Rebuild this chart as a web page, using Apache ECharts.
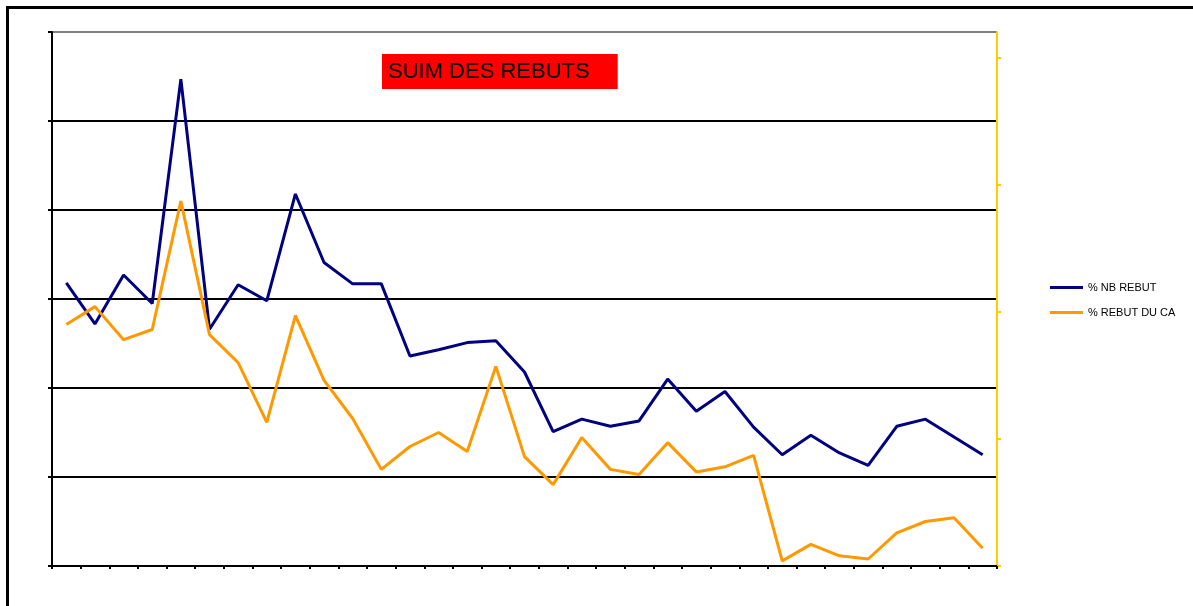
<!DOCTYPE html>
<html>
<head>
<meta charset="utf-8">
<script src="https://cdn.jsdelivr.net/npm/echarts@6/dist/echarts.min.js"></script>
<style>
  html, body { margin: 0; padding: 0; background: #fff; }
  #chart { width: 1193px; height: 606px; }
</style>
</head>
<body>
<div id="chart"></div>
<script>
// periods on the x axis (no labels shown in the original)
var categories = ['1','2','3','4','5','6','7','8','9','10','11','12','13','14','15','16','17',
                  '18','19','20','21','22','23','24','25','26','27','28','29','30','31','32','33'];

// % NB REBUT (left axis)
var nbRebut = [3.18, 2.72, 3.27, 2.95, 5.47, 2.66, 3.16, 2.98, 4.18, 3.41, 3.17,
               3.17, 2.36, 2.43, 2.51, 2.53, 2.18, 1.51, 1.65, 1.57, 1.63, 2.10,
               1.74, 1.96, 1.56, 1.25, 1.47, 1.27, 1.13, 1.57, 1.65, 1.45, 1.25];

// % REBUT DU CA (right axis)
var rebutCA = [1.90, 2.04, 1.78, 1.86, 2.87, 1.82, 1.60, 1.13, 1.97, 1.46, 1.16,
               0.76, 0.94, 1.05, 0.90, 1.57, 0.86, 0.64, 1.01, 0.76, 0.72, 0.97,
               0.74, 0.78, 0.87, 0.04, 0.17, 0.08, 0.055, 0.26, 0.35, 0.38, 0.14];

var chart = echarts.init(document.getElementById('chart'));

var option = {
  animation: false,
  backgroundColor: '#fff',
  title: {
    text: 'SUIM DES REBUTS',
    left: 382,
    top: 54,
    backgroundColor: '#ff0000',
    padding: [7, 28, 6, 6],
    textStyle: {
      fontFamily: 'Liberation Sans, Arial, sans-serif',
      fontSize: 22,
      fontWeight: 'normal',
      color: '#000'
    }
  },
  graphic: [{
    type: 'rect',
    shape: { x: 7.5, y: 7.5, width: 1300, height: 700 },
    style: { fill: 'none', stroke: '#000', lineWidth: 3 },
    silent: true
  }],
  legend: {
    orient: 'vertical',
    left: 1050,
    top: 281,
    padding: 0,
    icon: 'rect',
    itemWidth: 33,
    itemHeight: 3,
    itemGap: 12,
    textStyle: {
      fontFamily: 'Liberation Sans, Arial, sans-serif',
      fontSize: 11,
      color: '#000',
      lineHeight: 13
    },
    data: ['% NB REBUT', '% REBUT DU CA']
  },
  grid: {
    left: 52,
    top: 32,
    right: 196,
    bottom: 40,
    containLabel: false
  },
  xAxis: {
    type: 'category',
    data: categories,
    boundaryGap: true,
    axisLine: { lineStyle: { color: '#000', width: 2 } },
    axisTick: { show: true, length: 3, lineStyle: { color: '#000', width: 2 } },
    axisLabel: { show: false },
    splitLine: { show: false }
  },
  yAxis: [{
    type: 'value',
    min: 0,
    max: 6,
    interval: 1,
    position: 'left',
    axisLine: { show: true, lineStyle: { color: '#000', width: 2 } },
    axisTick: { show: true, length: 4, lineStyle: { color: '#000', width: 2 } },
    axisLabel: { show: false },
    splitLine: {
      show: true,
      lineStyle: {
        color: ['#000', '#000', '#000', '#000', '#000', '#000', '#808080'],
        width: 2
      }
    }
  }, {
    type: 'value',
    min: 0,
    max: 4.2,
    interval: 1,
    position: 'right',
    axisLine: { show: true, lineStyle: { color: '#ffcc00', width: 2 } },
    axisTick: { show: true, length: 4, customValues: [0, 1, 2, 3, 4],
                lineStyle: { color: '#ffcc00', width: 2 } },
    axisLabel: { show: false },
    splitLine: { show: false }
  }],
  series: [{
    name: '% NB REBUT',
    type: 'line',
    yAxisIndex: 0,
    data: nbRebut,
    symbol: 'none',
    lineStyle: { color: '#000080', width: 3 },
    itemStyle: { color: '#000080' }
  }, {
    name: '% REBUT DU CA',
    type: 'line',
    yAxisIndex: 1,
    data: rebutCA,
    symbol: 'none',
    lineStyle: { color: '#ff9900', width: 3 },
    itemStyle: { color: '#ff9900' }
  }]
};

chart.setOption(option);
</script>
</body>
</html>
